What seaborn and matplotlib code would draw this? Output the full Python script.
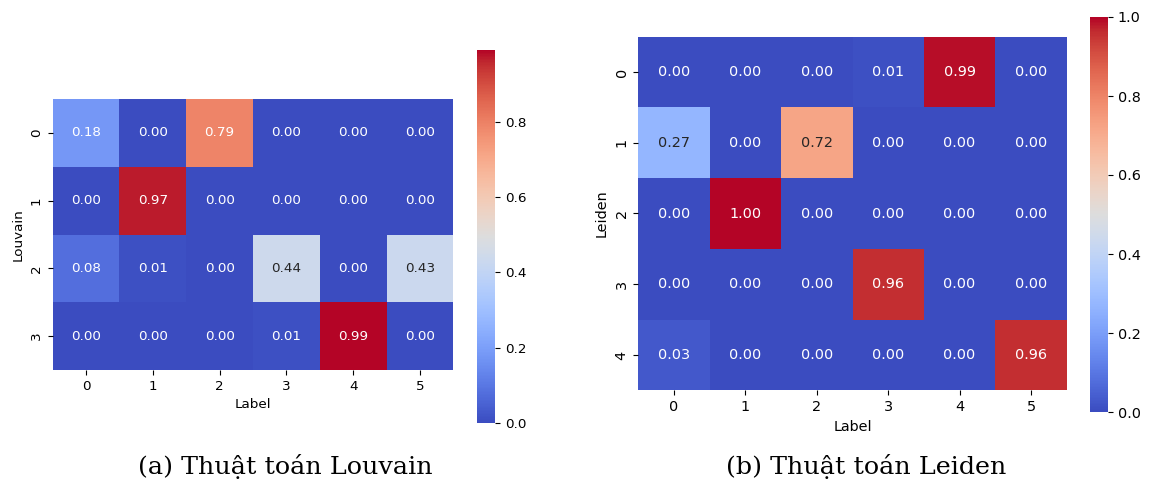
import numpy as np
import pandas as pd
import matplotlib
matplotlib.use("Agg")
import matplotlib.pyplot as plt
import seaborn as sns

labels = ["0", "1", "2", "3", "4", "5"]
louvain_rows = ["0", "1", "2", "3"]
leiden_rows = ["0", "1", "2", "3", "4"]

louvain_vals = [
    [0.18, 0.00, 0.79, 0.00, 0.00, 0.00],
    [0.00, 0.97, 0.00, 0.00, 0.00, 0.00],
    [0.08, 0.01, 0.00, 0.44, 0.00, 0.43],
    [0.00, 0.00, 0.00, 0.01, 0.99, 0.00],
]
leiden_vals = [
    [0.00, 0.00, 0.00, 0.01, 0.99, 0.00],
    [0.27, 0.00, 0.72, 0.00, 0.00, 0.00],
    [0.00, 1.00, 0.00, 0.00, 0.00, 0.00],
    [0.00, 0.00, 0.00, 0.96, 0.00, 0.00],
    [0.03, 0.00, 0.00, 0.00, 0.00, 0.96],
]
captions = ["(a) Thuật toán Louvain", "(b) Thuật toán Leiden"]

W, H = 1151, 486
fig = plt.figure(figsize=(W / 100, H / 100), dpi=100)

def box(x0, y0, x1, y1):
    return [x0 / W, 1 - y1 / H, (x1 - x0) / W, (y1 - y0) / H]

def draw(df, ylabel, hm_box, cb_box, fs):
    ax = fig.add_axes(box(*hm_box))
    cax = fig.add_axes(box(*cb_box))
    sns.heatmap(df, ax=ax, cbar_ax=cax, cmap="coolwarm", annot=True, fmt=".2f",
                annot_kws={"fontsize": fs})
    ax.set_xlabel("Label", fontsize=fs)
    ax.set_ylabel(ylabel, fontsize=fs)
    ax.tick_params(labelsize=fs)
    plt.setp(ax.get_yticklabels(), rotation=90, va="center")
    plt.setp(ax.get_xticklabels(), rotation=0)
    cax.tick_params(labelsize=fs)
    return ax

df1 = pd.DataFrame(louvain_vals, index=louvain_rows, columns=labels)
df2 = pd.DataFrame(leiden_vals, index=leiden_rows, columns=labels)

draw(df1, "Louvain", (52.6, 99, 453.4, 370), (477, 50, 495, 423), 9.7)
draw(df2, "Leiden", (638.3, 36.6, 1066.7, 390.4), (1090, 17, 1108, 412), 10.4)

fig.text(285 / W, 1 - 466 / H, captions[0], ha="center", va="center",
         fontsize=18.3, family="DejaVu Serif")
fig.text(866 / W, 1 - 466 / H, captions[1], ha="center", va="center",
         fontsize=18.3, family="DejaVu Serif")

fig.savefig("out.png", dpi=100)
